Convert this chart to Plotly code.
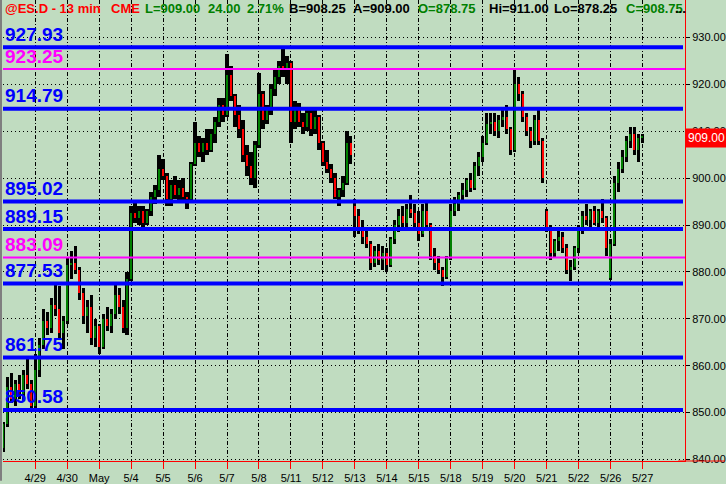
import plotly.graph_objects as go

# ---------------- data ----------------
day_labels = ["4/29", "4/30", "May", "5/4", "5/5", "5/6", "5/7", "5/8", "5/11", "5/12",
              "5/13", "5/14", "5/15", "5/18", "5/19", "5/20", "5/21", "5/22", "5/26", "5/27"]
bars_per_day = 8

open_ = [842.5, 847.5, 855.5, 853, 856, 854, 858, 856,
         851.5, 859, 864.5, 869.5, 868, 873, 872, 867,
         869.5, 881.5, 882, 880.5, 875.5, 870.5, 872.5, 866,
         868.5, 864, 870, 868.5, 871, 875, 872.5, 868,
         878.5, 892.5, 891.5, 893, 890.5, 893, 896, 897.5,
         902, 900.5, 895.5, 898.5, 896.5, 898, 896, 895.5,
         903, 907.5, 905.5, 907.5, 906, 909.5, 912, 915.5,
         913.5, 922, 917.5, 913.5, 910.5, 905, 902.5, 900,
         907, 918, 912.5, 914.5, 919, 921.5, 924, 923,
         924.5, 912, 915, 912, 911, 914, 910.5, 913,
         907.5, 903.5, 902, 900, 896, 897.5, 899, 907.5,
         894, 892, 889, 887.5, 886, 882, 884.5, 882.5,
         884, 881.5, 887, 890, 892, 890.5, 893.5, 892.5,
         890.5, 888, 893, 890, 883.5, 882, 880.5, 879,
         883, 893, 894.5, 896.5, 897.5, 899.5, 898, 902.5,
         904.5, 907.5, 911.5, 912, 910, 912.5, 913, 910.5,
         906, 920, 918, 913, 910, 908, 912.5, 908,
         893, 889.5, 884, 886.5, 887.5, 885, 880.5, 881,
         885, 889, 892, 891, 893, 890.5, 893, 891.5,
         878.75, 886, 899, 902, 904.5, 908, 909.5, 906,
         908.5]
high = [848, 857.5, 858.5, 857, 858, 859, 861.5, 857,
        862.5, 866, 872, 871.5, 874.5, 877.5, 877, 870.5,
        883, 884.5, 885.5, 881, 876.5, 874, 875, 870,
        869, 871, 872.5, 872, 877.5, 876.5, 874, 880,
        894, 895, 894, 894, 893.5, 897, 898.5, 905,
        904, 901, 899.5, 900.5, 899.5, 900, 897, 903.5,
        912, 909, 908.5, 910.5, 910.5, 913, 917, 917,
        926.5, 924, 918, 915.5, 912.5, 907, 905.5, 908,
        922.5, 918.5, 915.5, 920, 923, 925, 927.5, 926,
        925, 916.5, 916, 914, 915, 915, 914.5, 913.5,
        908, 906, 903, 901, 898, 900.5, 910, 909,
        895.5, 893.5, 891, 889.5, 886.5, 885.5, 886, 885.5,
        885, 887.5, 891, 893.5, 894, 894.5, 896.5, 894.5,
        893, 894.5, 895, 890.5, 885, 883.5, 881, 883.5,
        894.5, 896, 897, 899, 900, 901, 903.5, 905.5,
        909, 914, 914, 914, 913.5, 915, 915.5, 911,
        923, 921.5, 918.5, 914, 911, 913.5, 914.5, 908.5,
        893.5, 890, 887, 889, 888.5, 886, 882.5, 885.5,
        890, 893, 894.5, 893.5, 894, 893.5, 895.5, 892,
        887, 900.5, 903.5, 906, 909, 911, 911, 909.5,
        909.5]
low = [841.5, 847, 852, 851.5, 853, 852.5, 855, 850.5,
       851, 857.5, 863.5, 866.5, 867, 870.5, 866, 863.5,
       869, 878.5, 879.5, 874, 869, 867, 864.5, 864,
       862.5, 863.5, 867.5, 867, 870, 871, 867, 866.5,
       878, 890.5, 890, 889.5, 890, 892, 894.5, 896,
       899.5, 894, 894, 895.5, 895, 895, 893.5, 895,
       902.5, 904.5, 903.5, 905, 905.5, 907.5, 911, 912,
       913, 916.5, 911, 908.5, 903.5, 900.5, 898.5, 898,
       906.5, 910.5, 911.5, 913.5, 917.5, 920, 921.5, 920,
       907.5, 910.5, 911, 909.5, 910, 909, 909.5, 906,
       902.5, 901, 899, 895.5, 894, 896, 898.5, 903,
       887.5, 888, 886, 885, 880.5, 881, 881.5, 880.5,
       880, 881, 886, 888.5, 889.5, 889.5, 891.5, 889.5,
       886.5, 887.5, 889, 882.5, 880.5, 879.5, 877, 878.5,
       882.5, 892, 893, 895, 896, 897, 897.5, 900.5,
       903.5, 907, 909.5, 909, 908.5, 911, 909.5, 905,
       905.5, 916.5, 912, 909, 906.5, 907, 907, 899,
       888.5, 882.5, 883, 884.5, 884, 879.5, 878, 880.5,
       884, 888, 890, 889.5, 890, 889.5, 890.5, 883.5,
       878.25, 885.5, 897, 901, 903.5, 906.5, 905, 903.5,
       907.5]
close = [847.5, 855.5, 853, 856, 854, 858, 856, 851.5,
         859, 864.5, 869.5, 868, 873, 872, 867, 869.5,
         881.5, 882, 880.5, 875.5, 870.5, 872.5, 866, 868.5,
         864, 870, 868.5, 871, 875, 872.5, 868, 878.5,
         892.5, 891.5, 893, 890.5, 893, 896, 897.5, 902,
         900.5, 895.5, 898.5, 896.5, 898, 896, 895.5, 903,
         907.5, 905.5, 907.5, 906, 909.5, 912, 915.5, 913.5,
         922, 917.5, 913.5, 910.5, 905, 902.5, 900, 907,
         918, 912.5, 914.5, 919, 921.5, 924, 923, 924.5,
         912, 915, 912, 911, 914, 910.5, 913, 907.5,
         903.5, 902, 900, 896, 897.5, 899, 907.5, 905,
         892, 889, 887.5, 886, 882, 884.5, 882.5, 884,
         881.5, 887, 890, 892, 890.5, 893.5, 892.5, 890.5,
         888, 893, 890, 883.5, 882, 880.5, 879, 883,
         893, 894.5, 896.5, 897.5, 899.5, 898, 902.5, 904.5,
         907.5, 911.5, 912, 910, 912.5, 913, 910.5, 906,
         920, 918, 913, 910, 908, 912.5, 908, 900,
         889.5, 884, 886.5, 887.5, 885, 880.5, 881, 885,
         889, 892, 891, 893, 890.5, 893, 891.5, 885,
         886, 899, 902, 904.5, 908, 909.5, 906, 908.5,
         909]

blue_levels = [927.93, 914.79, 895.02, 889.15, 877.53, 861.75, 850.58]
magenta_levels = [923.25, 883.09]
last_price = 909.00

header_texts = ["@ES.D - 13 min", "CME", "L=909.00", "24.00", "2.71%", "B=908.25",
                "A=909.00", "O=878.75", "Hi=911.00", "Lo=878.25", "C=908.75", "..."]

# ---------------- styling / layout ----------------
BG = "#C0DCC0"
UP = "#008000"
DN = "#FF0000"
BLUE = "#0000FF"
MAG = "#FF00FF"
FONT = "Liberation Sans, Arial"
W, H = 726, 484
ML, MR, MT, MB = 3, 40, 0, 20
PW = W - ML - MR
PH = H - MT - MB

x = list(range(len(close)))
hl_len = [h - l for h, l in zip(high, low)]
body_base = [min(o, c) for o, c in zip(open_, close)]
body_len = [max(abs(c - o), 0.3) for o, c in zip(open_, close)]
body_col = [UP if c >= o else DN for o, c in zip(open_, close)]

fig = go.Figure()
fig.add_trace(go.Bar(x=x, y=hl_len, base=low, width=0.8,
                     marker=dict(color="#000000", line=dict(width=0)),
                     hoverinfo="skip", showlegend=False))
fig.add_trace(go.Bar(x=x, y=body_len, base=body_base, width=0.35,
                     marker=dict(color=body_col, line=dict(width=0)),
                     hoverinfo="skip", showlegend=False))

shapes = []
for v in magenta_levels:
    shapes.append(dict(type="line", xref="paper", yref="y", x0=0, x1=1, y0=v, y1=v,
                       line=dict(color=MAG, width=2)))
for v in blue_levels:
    shapes.append(dict(type="line", xref="paper", yref="y", x0=0, x1=(684 - ML) / PW, y0=v, y1=v,
                       line=dict(color=BLUE, width=4)))
# red baseline running under the price scale, grey left frame
shapes.append(dict(type="line", xref="paper", yref="paper", x0=0.99, x1=(W - ML) / PW, y0=0, y1=0,
                   line=dict(color="red", width=1)))
shapes.append(dict(type="line", xref="paper", yref="paper", x0=-2 / PW, x1=-2 / PW, y0=-MB / PH, y1=1,
                   line=dict(color="#7F7F7F", width=2)))

annotations = []
for v in blue_levels:
    annotations.append(dict(x=0, y=v, xref="paper", yref="y", xanchor="left", yanchor="middle",
                            yshift=13, text=f"{v:.2f}", showarrow=False,
                            font=dict(family=FONT, size=19, color=BLUE, weight="bold")))
for v in magenta_levels:
    annotations.append(dict(x=0, y=v, xref="paper", yref="y", xanchor="left", yanchor="middle",
                            yshift=13, text=f"{v:.2f}", showarrow=False,
                            font=dict(family=FONT, size=19, color=MAG, weight="bold")))

header_colors = ["red", "red", UP, UP, UP, "black", "black", UP, "black", "black", UP, "black"]
header_px = [3, 109, 143, 206, 245, 287, 352, 417, 488, 553, 625, 674]
for t, c, px in zip(header_texts, header_colors, header_px):
    annotations.append(dict(x=(px - ML) / PW, y=1 - 9 / PH, xref="paper", yref="paper",
                            xanchor="left", yanchor="middle", text=t, showarrow=False,
                            font=dict(family=FONT, size=13, color=c, weight="bold")))

annotations.append(dict(x=1, y=last_price, xref="paper", yref="y", xanchor="left", yanchor="middle",
                        xshift=0, yshift=-2, text=f"{last_price:.2f}", showarrow=False, bgcolor="red",
                        borderpad=2, font=dict(family=FONT, size=12, color="white")))

fig.update_layout(
    width=W, height=H,
    margin=dict(l=ML, r=MR, t=MT, b=MB),
    paper_bgcolor=BG, plot_bgcolor=BG,
    barmode="overlay", bargap=0,
    shapes=shapes, annotations=annotations,
    showlegend=False,
    xaxis=dict(range=[-0.05, 170.6],
               tickvals=[bars_per_day * (i + 1) for i in range(len(day_labels))],
               ticktext=day_labels,
               showgrid=True, gridcolor="#000000", gridwidth=1, griddash="4px,2px,1px,2px",
               zeroline=False, showline=True, linecolor="red", linewidth=1,
               ticks="outside", ticklen=7, tickcolor="red", tickwidth=1,
               tickfont=dict(family=FONT, size=11, color="black")),
    yaxis=dict(side="right", range=[839.68, 937.99], dtick=10, tick0=850, tickformat=".2f",
               showgrid=True, gridcolor="#000000", gridwidth=1, griddash="1px,3px",
               zeroline=False, showline=True, linecolor="red", linewidth=1,
               ticks="outside", ticklen=4, tickcolor="black", tickwidth=1,
               tickfont=dict(family=FONT, size=11, color="black")),
)

fig.write_html("out.html", config={"displayModeBar": False},
               post_script="document.body.style.margin='0px';document.body.style.overflow='hidden';")
